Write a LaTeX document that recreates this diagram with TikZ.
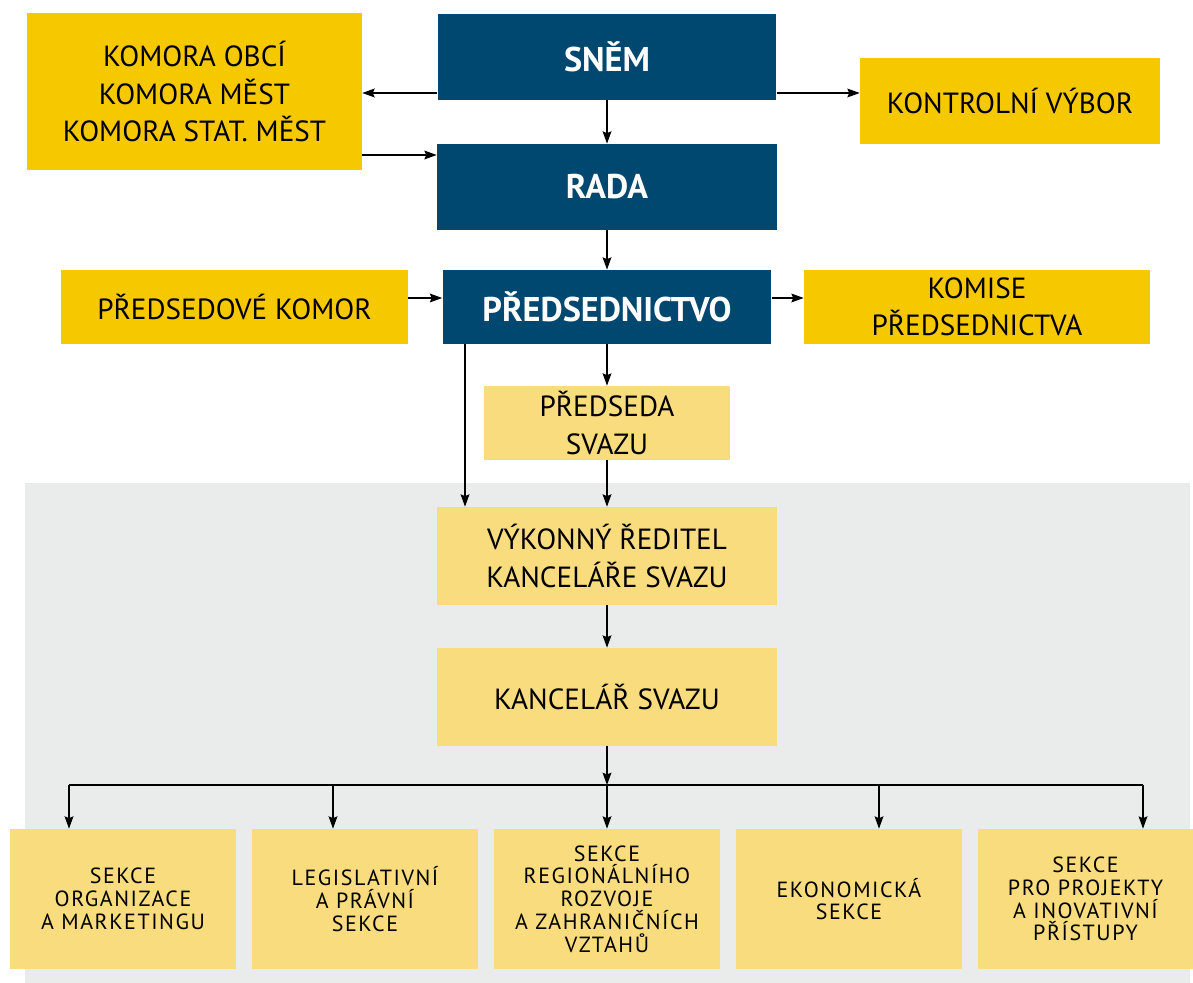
\documentclass[tikz,border=0pt]{standalone}
\usepackage{fontspec}
\setmainfont{PT Sans}
\usepackage{xcolor}
\usetikzlibrary{arrows.meta, positioning}

\definecolor{svazblue}{HTML}{004870}
\definecolor{svazyellow}{HTML}{F5C800}
\definecolor{svazpale}{HTML}{F9DC7E}
\definecolor{svazgrey}{HTML}{EAECEB}

\begin{document}
\begin{tikzpicture}[x=0.02cm, y=-0.02cm,
    every node/.style={inner sep=0pt, align=center},
    bluebox/.style={fill=svazblue, text=white, font=\fontsize{19.5}{22}\selectfont\bfseries},
    yellowbox/.style={fill=svazyellow, font=\fontsize{16.6}{21.3}\selectfont},
    palebox/.style={fill=svazpale, font=\fontsize{16.6}{21.3}\selectfont},
    sekce/.style={fill=svazpale, minimum width=4.52cm, minimum height=2.8cm, font=\fontsize{12.5}{13}\selectfont\addfontfeatures{LetterSpace=7}},
    arr/.style={-{Stealth[length=7pt, width=5pt, inset=1pt]}, line width=0.75pt}]
                        \useasboundingbox (0,0) rectangle (1193,983);
                        \fill[svazgrey] (25,483) rectangle (1190,983);

                        \node[yellowbox, minimum width=6.7cm, minimum height=3.14cm] (komory) at (194.5,91.5) {KOMORA OBCÍ\\KOMORA MĚST\\KOMORA STAT. MĚST};
                        \node[bluebox, minimum width=6.78cm, minimum height=1.72cm] (snem) at (607,57) {SNĚM};
                        \node[yellowbox, minimum width=6cm, minimum height=1.72cm] (kv) at (1010,101) {KONTROLNÍ VÝBOR};
                        \node[bluebox, minimum width=6.8cm, minimum height=1.72cm] (rada) at (607,187) {RADA};
                        \node[yellowbox, minimum width=6.94cm, minimum height=1.48cm] (predkom) at (234.5,307) {PŘEDSEDOVÉ KOMOR};
                        \node[bluebox, minimum width=6.58cm, minimum height=1.48cm] (pred) at (607,307) {PŘEDSEDNICTVO};
                        \node[yellowbox, minimum width=6.92cm, minimum height=1.48cm] (komise) at (977,307) {KOMISE\\PŘEDSEDNICTVA};
                        \node[palebox, minimum width=4.94cm, minimum height=1.48cm] (predseda) at (607,423) {PŘEDSEDA\\SVAZU};
                        \node[palebox, minimum width=6.82cm, minimum height=1.96cm] (reditel) at (607,556) {VÝKONNÝ ŘEDITEL\\KANCELÁŘE SVAZU};
                        \node[palebox, minimum width=6.82cm, minimum height=1.96cm] (kancelar) at (607,697) {KANCELÁŘ SVAZU};

                        \node[sekce] (s1) at (123,899) {SEKCE\\ORGANIZACE\\A MARKETINGU};
                        \node[sekce] (s2) at (365,899) {LEGISLATIVNÍ\\A PRÁVNÍ\\SEKCE};
                        \node[sekce] (s3) at (607,899) {SEKCE\\REGIONÁLNÍHO\\ROZVOJE\\A ZAHRANIČNÍCH\\VZTAHŮ};
                        \node[sekce] (s4) at (849,899) {EKONOMICKÁ\\SEKCE};
                        \node[sekce, minimum width=4.3cm] (s5) at (1085.5,899) {SEKCE\\PRO PROJEKTY\\A INOVATIVNÍ\\PŘÍSTUPY};

                        \coordinate (rozcesti) at (607,785);

                        \draw[arr] (snem.west |- 0,93) -- (komory.east |- 0,93);
                        \draw[arr] (komory.east |- 0,155) -- (rada.west |- 0,155);
                        \draw[arr] (snem.east |- 0,93) -- (kv.west |- 0,93);
                        \draw[arr] (snem) -- (rada);
                        \draw[arr] (rada) -- (pred);
                        \draw[arr] (predkom.east |- 0,298) -- (pred.west |- 0,298);
                        \draw[arr] (pred.east |- 0,298) -- (komise.west |- 0,298);
                        \draw[arr] (pred) -- (predseda);
                        \draw[arr] (pred.south -| 465,0) -- (reditel.north -| 465,0);
                        \draw[arr] (predseda) -- (reditel);
                        \draw[arr] (reditel) -- (kancelar);
                        \draw[arr] (kancelar) -- (rozcesti);
                        \draw[line width=0.75pt] (69,785) -- (1143,785);
                        \draw[arr] (rozcesti -| 69,0) -- (s1.north -| 69,0);
                        \draw[arr] (rozcesti -| 333,0) -- (s2.north -| 333,0);
                        \draw[arr] (rozcesti) -- (s3);
                        \draw[arr] (rozcesti -| 879,0) -- (s4.north -| 879,0);
                        \draw[arr] (rozcesti -| 1143,0) -- (s5.north -| 1143,0);
                    \end{tikzpicture}
\end{document}
